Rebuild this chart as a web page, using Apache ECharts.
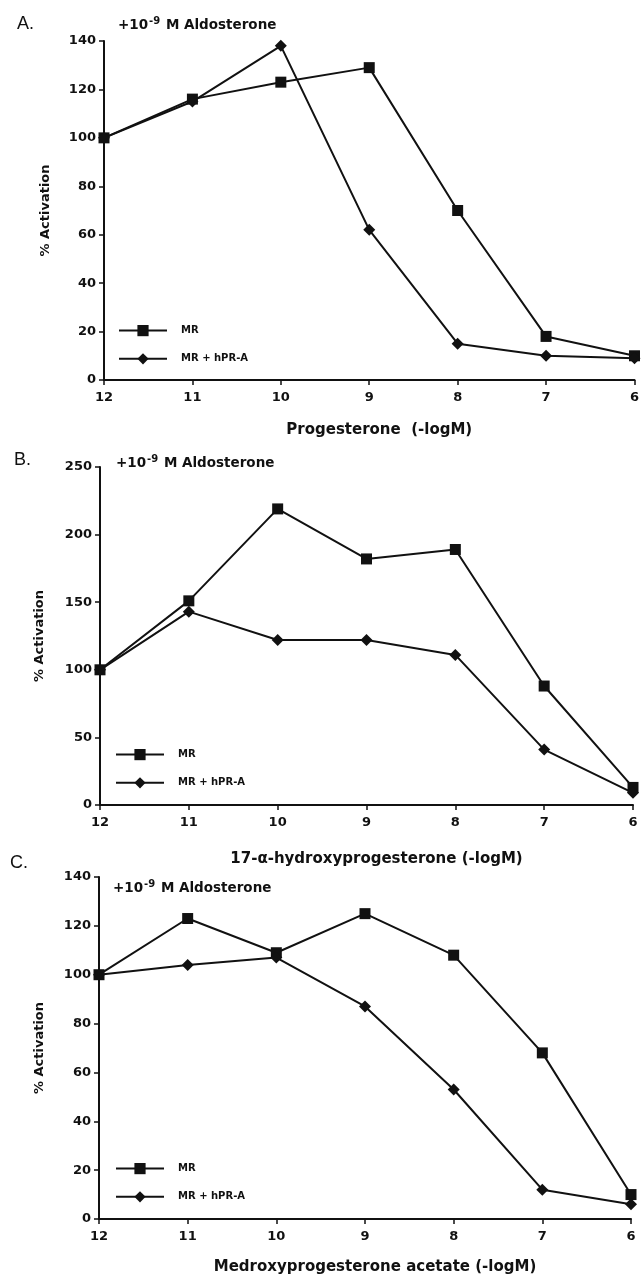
<!DOCTYPE html>
<html>
<head>
<meta charset="utf-8">
<script src="https://cdn.jsdelivr.net/npm/echarts@6/dist/echarts.min.js"></script>
<style>
  html, body { margin: 0; padding: 0; background: #fff; }
  #main { width: 642px; height: 1278px; }
</style>
</head>
<body>
<div id="main"></div>
<script>
// -logM doses, left to right
const doses = [12, 11, 10, 9, 8, 7, 6]
const seriesNames = ['MR', 'MR + hPR-A']

// A. progesterone
const progMR = [100, 116, 123, 129, 70, 18, 10]
const progPR = [100, 115, 138, 62, 15, 10, 9]
// B. 17-a-hydroxyprogesterone
const ohpMR = [100, 151, 219, 182, 189, 88, 13]
const ohpPR = [100, 143, 122, 122, 111, 41, 9]
// C. medroxyprogesterone acetate
const mpaMR = [100, 123, 109, 125, 108, 68, 10]
const mpaPR = [100, 104, 107, 87, 53, 12, 6]

const panelLetters = ['A.', 'B.', 'C.']
const xTitles = ['Progesterone  (-logM)', '17-\u03b1-hydroxyprogesterone (-logM)', 'Medroxyprogesterone acetate (-logM)']
const yMax = [140, 250, 140]
const yStep = [20, 50, 20]

const font = 'DejaVu Sans, Liberation Sans, Arial, sans-serif'
const letterFont = 'Liberation Sans, Arial, sans-serif'
const ink = '#111'

const grids = [
  { left: 104, right: 6, top: 41, height: 339 },
  { left: 100, right: 9, top: 467, height: 338 },
  { left: 99, right: 11, top: 877, height: 342 }
]
const nameGapsX = [43, 47, 41]
const nameGapsY = [52, 54, 53]
const legendTops = [325, 749, 1163]
const legendLefts = [118, 115, 115]
const titlePos = [
  { letter: [17, 15], sub: [118, 16] },
  { letter: [14, 451], sub: [116, 454] },
  { letter: [10, 854], sub: [113, 879] }
]

const pairs = (vals) => doses.map((d, i) => [d, vals[i]])
const panelData = [[progMR, progPR], [ohpMR, ohpPR], [mpaMR, mpaPR]]

const xAxes = grids.map((g, i) => ({
  type: 'value',
  gridIndex: i,
  inverse: true,
  min: 6,
  max: 12,
  interval: 1,
  name: xTitles[i],
  nameLocation: 'middle',
  nameGap: nameGapsX[i],
  nameTextStyle: { color: ink, fontFamily: font, fontSize: 15, fontWeight: 'bold', padding: [0, 0, 0, 20] },
  splitLine: { show: false },
  axisLine: { lineStyle: { color: ink, width: 2 } },
  axisTick: { lineStyle: { color: ink, width: 1.5 }, length: 5 },
  axisLabel: { color: ink, fontFamily: font, fontSize: 13, fontWeight: 'bold', margin: 11 }
}))

const yAxes = grids.map((g, i) => ({
  type: 'value',
  gridIndex: i,
  min: 0,
  max: yMax[i],
  interval: yStep[i],
  name: '% Activation',
  nameLocation: 'middle',
  nameRotate: 90,
  nameGap: nameGapsY[i],
  nameTextStyle: { color: ink, fontFamily: font, fontSize: 13, fontWeight: 'bold' },
  splitLine: { show: false },
  axisLine: { show: true, lineStyle: { color: ink, width: 2 } },
  axisTick: { show: true, lineStyle: { color: ink, width: 1.5 }, length: 5 },
  axisLabel: { color: ink, fontFamily: font, fontSize: 13, fontWeight: 'bold', margin: 8 }
}))

const series = []
panelData.forEach((pd, i) => {
  series.push({
    name: seriesNames[0],
    type: 'line',
    xAxisIndex: i,
    yAxisIndex: i,
    data: pairs(pd[0]),
    symbol: 'rect',
    symbolSize: 11,
    itemStyle: { color: ink },
    lineStyle: { color: ink, width: 2 },
    animation: false
  })
  series.push({
    name: seriesNames[1],
    type: 'line',
    xAxisIndex: i,
    yAxisIndex: i,
    data: pairs(pd[1]),
    symbol: 'diamond',
    symbolSize: 12,
    itemStyle: { color: ink },
    lineStyle: { color: ink, width: 2 },
    animation: false
  })
})

const titles = []
titlePos.forEach((p, i) => {
  titles.push({
    text: panelLetters[i],
    left: p.letter[0],
    top: p.letter[1],
    padding: 0,
    textStyle: { color: ink, fontFamily: letterFont, fontSize: 18, fontWeight: 'normal' }
  })
  titles.push({
    text: '+10{sup|-9} M Aldosterone',
    left: p.sub[0],
    top: p.sub[1],
    padding: 0,
    textStyle: {
      color: ink, fontFamily: font, fontSize: 13.5, fontWeight: 'bold', lineHeight: 18,
      rich: {
        sup: { fontSize: 10, fontWeight: 'bold', color: ink, fontFamily: font, verticalAlign: 'top', lineHeight: 18, padding: [0, 1, 6, 1] }
      }
    }
  })
})

const legends = legendTops.map((t, i) => ({
  orient: 'vertical',
  left: legendLefts[i],
  top: t,
  padding: 0,
  itemWidth: 48,
  itemHeight: 14,
  itemGap: 17,
  data: seriesNames,
  selectedMode: false,
  textStyle: { color: ink, fontFamily: font, fontSize: 10, fontWeight: 'bold', padding: [0, 0, 0, 9] }
}))

const chart = echarts.init(document.getElementById('main'))
chart.setOption({
  backgroundColor: '#fff',
  animation: false,
  title: titles,
  legend: legends,
  grid: grids,
  xAxis: xAxes,
  yAxis: yAxes,
  series: series
})
</script>
</body>
</html>
